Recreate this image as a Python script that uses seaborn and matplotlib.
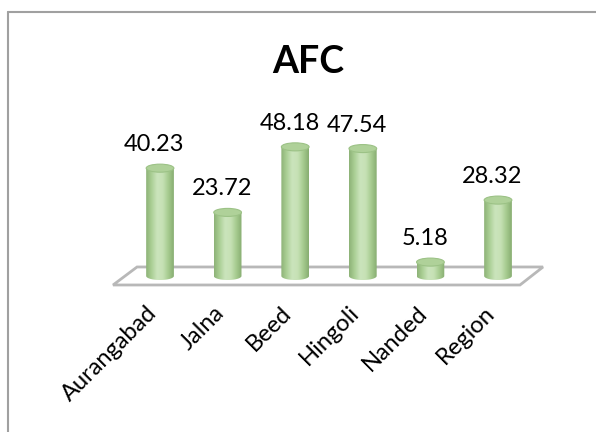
import numpy as np
import matplotlib
matplotlib.use("Agg")
import matplotlib.pyplot as plt
import matplotlib.transforms as mtransforms
import seaborn as sns
from matplotlib.patches import Ellipse, Polygon, PathPatch
from matplotlib.path import Path
from matplotlib.colors import LinearSegmentedColormap
from matplotlib.lines import Line2D

districts = ["Aurangabad", "Jalna", "Beed", "Hingoli", "Nanded", "Region"]
afc = [40.23, 23.72, 48.18, 47.54, 5.18, 28.32]

sns.set_theme(style="white")
plt.rcParams["font.family"] = ["Lato", "DejaVu Sans"]

W, H = 596, 432
fig = plt.figure(figsize=(W / 100, H / 100), dpi=100)
ax = fig.add_axes([100 / W, 132 / H, 460 / W, 180 / H])

sns.barplot(x=districts, y=afc, width=0.41, color="#a9d18e",
            errorbar=None, ax=ax, zorder=2)

# perspective floor under the cylinders
n = len(districts)
depth = 3.36
floor = Polygon([(-0.695, -depth), (n - 1 + 0.325, -depth),
                 (n - 1 + 0.666, depth), (-0.340, depth)],
                closed=True, facecolor="white", edgecolor="#b8b8b8",
                lw=2.0, zorder=1)
ax.add_patch(floor)

# cylinders: gradient body clipped to the bar outline, elliptical cap on top
cmap = LinearSegmentedColormap.from_list(
    "cyl", ["#8cb276", "#abcf95", "#cbe4bc", "#c6e1b5", "#a6cb8f", "#86ac70"])
grad = np.linspace(0, 1, 256).reshape(1, -1)
e = 1.5
for p in list(ax.patches):
    if p is floor:
        continue
    x0, w, h = p.get_x(), p.get_width(), p.get_height()
    cx = x0 + w / 2
    p.set_visible(False)
    t = np.linspace(np.pi, 2 * np.pi, 60)
    bottom = np.column_stack([cx + w / 2 * np.cos(t), e * np.sin(t)])
    top = np.array([[x0 + w, h], [x0, h]])
    verts = np.vstack([bottom, top, bottom[:1]])
    clip = PathPatch(Path(verts, closed=True), transform=ax.transData,
                     facecolor="none", edgecolor="none")
    ax.add_patch(clip)
    im = ax.imshow(grad, cmap=cmap, extent=[x0, x0 + w, -e, h],
                   aspect="auto", zorder=2, interpolation="bicubic")
    im.set_clip_path(clip)
    ax.add_patch(Ellipse((cx, h), w, 2 * e, facecolor="#afd199",
                         edgecolor="#9cc286", lw=0.8, zorder=3))
    ax.annotate(f"{h:.2f}", xy=(cx, h), xytext=(-4, 12.2),
                textcoords="offset points", ha="center", va="baseline",
                fontsize=17, color="black")

ax.set_xlim(-0.888, 5.917)
ax.set_ylim(-8.96, 58.2)
for s in ax.spines.values():
    s.set_visible(False)
ax.set_yticks([])
ax.set_ylabel("")
ax.set_xlabel("")
ax.tick_params(axis="x", length=0, pad=7, labelsize=17, colors="black")
shift = mtransforms.ScaledTranslation(-7 / 100, 0, fig.dpi_scale_trans)
for lab in ax.get_xticklabels():
    lab.set_rotation(45)
    lab.set_ha("right")
    lab.set_va("center")
    lab.set_rotation_mode("anchor")
    lab.set_transform(lab.get_transform() + shift)

fig.text(308 / W, 1 - 62 / H, "AFC", ha="center", va="center",
         fontsize=27, fontweight="bold", color="black")

# chart frame
fig.add_artist(Line2D([8 / W, 1], [1 - 12 / H, 1 - 12 / H],
                      transform=fig.transFigure, color="#a0a0a0", lw=1.5))
fig.add_artist(Line2D([8 / W, 8 / W], [0, 1 - 12 / H],
                      transform=fig.transFigure, color="#a0a0a0", lw=1.5))

fig.savefig("out.png", dpi=100)
